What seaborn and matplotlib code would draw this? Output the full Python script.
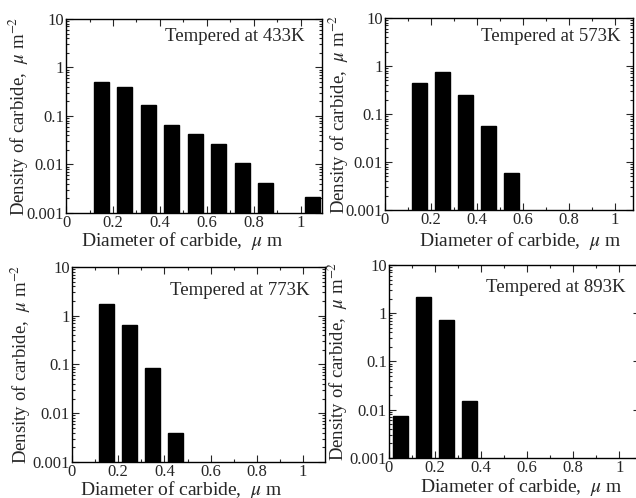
import matplotlib
matplotlib.use("Agg")
import matplotlib.pyplot as plt
import matplotlib.ticker as mticker
import pandas as pd
import seaborn as sns

sns.set_style("ticks")
plt.rcParams['font.family'] = ['Liberation Serif', 'DejaVu Serif']
plt.rcParams['mathtext.fontset'] = 'stix'

# Data (bin centres in um, density in um^-2)
d433 = [0.15, 0.25, 0.35, 0.45, 0.55, 0.65, 0.75, 0.85, 1.05]
v433 = [0.51, 0.40, 0.17, 0.064, 0.042, 0.027, 0.0105, 0.0042, 0.0021]

d573 = [0.15, 0.25, 0.35, 0.45, 0.55]
v573 = [0.44, 0.74, 0.25, 0.056, 0.006]

d773 = [0.15, 0.25, 0.35, 0.45]
v773 = [1.72, 0.66, 0.085, 0.004]

d893 = [0.05, 0.15, 0.25, 0.35]
v893 = [0.0076, 2.14, 0.73, 0.0155]

titles = ["Tempered at 433K", "Tempered at 573K",
          "Tempered at 773K", "Tempered at 893K"]
diams = [d433, d573, d773, d893]
dens = [v433, v573, v773, v893]

# layout per panel: axes rect, x max, ylabel x, xlabel (x, y), title (x, y)
rects = [
    [0.1038, 0.5723, 0.4025, 0.3896],
    [0.6053, 0.5783, 0.3899, 0.3855],
    [0.1132, 0.0723, 0.3978, 0.3916],
    [0.6116, 0.0803, 0.3947, 0.3876],
]
xmaxs = [1.09, 1.08, 1.095, 1.09]
ylab_x = [-0.137, -0.137, -0.154, -0.155]
xlab_xy = [(0.453, -0.088), (0.544, -0.104), (0.431, -0.087), (0.526, -0.092)]
title_xy = [(0.93, 0.954), (0.948, 0.946), (0.94, 0.923), (0.944, 0.927)]

fig = plt.figure(figsize=(6.36, 4.98), dpi=100)

for i in range(4):
    ax = fig.add_axes(rects[i])
    df = pd.DataFrame({'diameter': diams[i], 'density': dens[i]})
    sns.barplot(data=df, x='diameter', y='density', native_scale=True,
                color='black', edgecolor='black', width=0.65, ax=ax)
    ax.set_yscale('log')
    ax.set_xlim(0, xmaxs[i])
    ax.set_ylim(0.001, 10)
    ax.xaxis.set_major_locator(mticker.FixedLocator([0, 0.2, 0.4, 0.6, 0.8, 1.0]))
    ax.xaxis.set_major_formatter(mticker.FixedFormatter(['0', '0.2', '0.4', '0.6', '0.8', '1']))
    ax.xaxis.set_minor_locator(mticker.MultipleLocator(0.1))
    ax.yaxis.set_major_locator(mticker.FixedLocator([0.001, 0.01, 0.1, 1, 10]))
    ax.yaxis.set_major_formatter(mticker.FixedFormatter(['0.001', '0.01', '0.1', '1', '10']))
    ax.yaxis.set_minor_locator(mticker.LogLocator(subs=range(2, 10)))
    ax.yaxis.set_minor_formatter(mticker.NullFormatter())
    ax.tick_params(which='both', direction='in', top=True, right=True,
                   labelsize=12, pad=1.5, width=0.8)
    ax.tick_params(which='major', length=5)
    ax.tick_params(which='minor', length=2.5)
    for s in ax.spines.values():
        s.set_linewidth(1.0)
        s.set_color('black')
    ax.set_xlabel(r'Diameter of carbide,  $\mu$ m', fontsize=14, va='top')
    ax.xaxis.set_label_coords(*xlab_xy[i])
    ax.set_ylabel(r'Density of carbide,  $\mu$ m$^{-2}$', fontsize=13.5)
    ax.yaxis.set_label_coords(ylab_x[i], 0.5)
    ax.text(title_xy[i][0], title_xy[i][1], titles[i], transform=ax.transAxes,
            ha='right', va='top', fontsize=13.5)

fig.savefig('out.png', dpi=100)
